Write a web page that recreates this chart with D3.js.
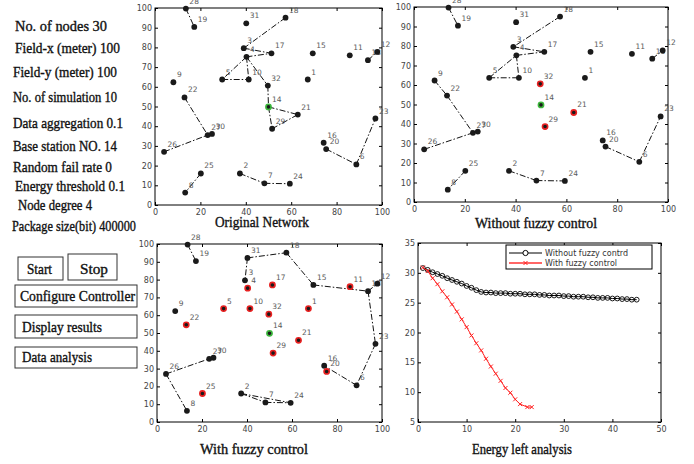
<!DOCTYPE html>
<html>
<head>
<meta charset="utf-8">
<script src="https://cdn.jsdelivr.net/npm/d3@7/dist/d3.min.js"></script>
<style>
body { margin: 0; background: #fff; }
.tick text { font-family: "DejaVu Sans", sans-serif; font-size: 8px; fill: #444; }
.tick line { stroke: #000; }
.serif { font-family: "Liberation Serif", serif; fill: #111; stroke: #111; stroke-width: 0.35px; }
.node-label { font-family: "DejaVu Sans", sans-serif; font-size: 7.5px; fill: #5a5a5a; }
.legend-text { font-family: "DejaVu Sans", sans-serif; font-size: 8px; fill: #333; }
</style>
</head>
<body>
<div id="chart-area"></div>
<script>
/*
*    wireless sensor network - fuzzy control demo panel
*/

// ---------- data ----------
let nodeIds = [1,2,3,4,5,6,7,8,9,10,11,12,13,14,15,16,17,18,19,20,21,22,23,24,25,26,27,28,29,30,31,32];
let nodeX = [67.3,37.4,39.1,40.3,29.6,88.7,48.2,13.3,8.1,41.3,85.8,97.9,93.8,50.0,69.5,74.3,
             51.3,57.5,17.3,75.4,62.9,13.0,97.1,59.4,20.2,4.0,23.2,13.6,51.6,25.1,40.2,49.7];
let nodeY = [63.7,16.0,79.6,75.2,63.7,20.6,11.0,6.3,62.3,63.7,76.0,77.7,73.5,49.8,77.0,31.6,
             77.0,95.1,90.4,28.4,45.9,54.6,43.9,10.8,16.0,27.0,35.5,99.7,38.7,36.1,92.2,60.6];
let baseStation = 14;

let edgesOriginal = [[28,19],[18,3],[3,17],[4,17],[4,5],[4,10],[4,32],[5,10],[32,14],[14,21],
                     [14,29],[29,21],[22,27],[26,27],[25,8],[2,7],[7,24],[20,6],[6,23],[13,12]];
let edgesWithout = [[28,19],[18,3],[3,17],[4,17],[4,10],[5,4],[5,10],[9,22],[22,27],[26,27],
                    [25,8],[2,7],[7,24],[20,6],[6,23],[13,12]];
let edgesWith = [[28,19],[31,3],[31,18],[18,15],[15,13],[13,12],[13,23],[23,6],[6,16],
                 [26,27],[26,8],[2,7],[2,24],[7,24]];

let redWithout = [32,21,29];
let redWith = [4,17,5,10,32,1,22,21,29,20,25,11];

let netXTicks = [0,20,40,60,80,100];
let netYTicks = [0,10,20,30,40,50,60,70,80,90,100];

// energy left
let roundsWithout = [1,2,3,4,5,6,7,8,9,10,11,12,13,14,15,16,17,18,19,20,21,22,23,24,25,26,27,28,29,30,
                     31,32,33,34,35,36,37,38,39,40,41,42,43,44,45];
let energyWithout = [30.8,30.5,30.1,29.8,29.5,29.1,28.8,28.5,28.2,27.8,27.5,27.1,26.8,26.7,26.7,26.6,
                     26.6,26.6,26.5,26.5,26.5,26.4,26.4,26.4,26.3,26.3,26.2,26.2,26.2,26.1,26.1,26.0,
                     26.0,26.0,25.9,25.9,25.8,25.8,25.8,25.7,25.7,25.6,25.6,25.5,25.5];
let roundsWith = [1,2,3,4,5,6,7,8,9,10,11,12,13,14,15,16,17,18,19,20,21,22.5,23.4];
let energyWith = [30.9,30.3,29.1,28.1,26.9,25.9,24.7,23.5,22.2,20.9,19.5,18.2,17.0,15.6,14.3,13.1,
                  11.9,10.7,9.9,8.8,8.0,7.5,7.5];
let energyXTicks = [0,10,20,30,40,50];
let energyYTicks = [5,10,15,20,25,30,35];
let legendNames = ["Without fuzzy contrd", "With fuzzy control"];

let paramText = ["No. of nodes  30", "Field-x (meter) 100", "Field-y (meter) 100", "No. of simulation 10",
                 "Data aggregation 0.1", "Base station NO. 14", "Random fail rate 0", "Energy threshold 0.1",
                 "Node degree 4", "Package size(bit) 400000"];
let buttonText = ["Start", "Stop", "Configure Controller", "Display results", "Data analysis"];

// ---------- layout ----------
// [x, baseline, width]
let paramLayout = [[15,31,92],[15,53,105],[13,77,104],[13,102,104],[13,128,110],[13,151,104],
                   [13,172,99],[15,191,110],[18,210,74],[12,231,124]];
// [x, y, w, h, textX, textW]
let buttonLayout = [[18,257,45,23,27,25],[68,254,49,26,80,28],[15,285,122,22,20,115],
                    [15,315,122,23,22,80],[15,347,122,21,22,70]];

let svg = d3.select("#chart-area")
    .append("svg")
    .attr("width", 694)
    .attr("height", 464);

// left parameter list
svg.selectAll(".param")
    .data(paramText)
    .enter()
    .append("text")
        .attr("class", "serif param")
        .attr("x", function(d, i){ return paramLayout[i][0]; })
        .attr("y", function(d, i){ return paramLayout[i][1]; })
        .attr("font-size", "14px")
        .attr("textLength", function(d, i){ return paramLayout[i][2]; })
        .attr("lengthAdjust", "spacingAndGlyphs")
        .text(function(d){ return d; });

// buttons
let btn = svg.selectAll(".btn")
    .data(buttonText)
    .enter()
    .append("g")
    .attr("class", "btn");

btn.append("rect")
    .attr("x", function(d, i){ return buttonLayout[i][0]; })
    .attr("y", function(d, i){ return buttonLayout[i][1]; })
    .attr("width", function(d, i){ return buttonLayout[i][2]; })
    .attr("height", function(d, i){ return buttonLayout[i][3]; })
    .attr("fill", "white")
    .attr("stroke", "#333")
    .attr("stroke-width", 1);

btn.append("text")
    .attr("class", "serif")
    .attr("font-size", "14px")
    .attr("x", function(d, i){ return buttonLayout[i][4]; })
    .attr("y", function(d, i){ return buttonLayout[i][1] + buttonLayout[i][3] - 6; })
    .attr("textLength", function(d, i){ return buttonLayout[i][5]; })
    .attr("lengthAdjust", "spacingAndGlyphs")
    .text(function(d){ return d; });

// ---------- helpers ----------
function drawFrame(x, y, xTicks, yTicks) {
    let x0 = x.range()[0], x1 = x.range()[1];
    let y0 = y.range()[0], y1 = y.range()[1];

    svg.append("g")
        .attr("transform", "translate(0," + y0 + ")")
        .call(d3.axisBottom(x).tickValues(xTicks).tickSizeInner(-3).tickSizeOuter(0).tickPadding(4))
        .call(function(g){ g.select(".domain").remove(); });
    svg.append("g")
        .attr("transform", "translate(" + x0 + ",0)")
        .call(d3.axisLeft(y).tickValues(yTicks).tickSizeInner(-3).tickSizeOuter(0).tickPadding(3))
        .call(function(g){ g.select(".domain").remove(); });
    svg.append("g")
        .attr("transform", "translate(0," + y1 + ")")
        .call(d3.axisTop(x).tickValues(xTicks).tickSizeInner(-3).tickSizeOuter(0).tickFormat(""))
        .call(function(g){ g.select(".domain").remove(); });
    svg.append("g")
        .attr("transform", "translate(" + x1 + ",0)")
        .call(d3.axisRight(y).tickValues(yTicks).tickSizeInner(-3).tickSizeOuter(0).tickFormat(""))
        .call(function(g){ g.select(".domain").remove(); });

    svg.append("rect")
        .attr("x", x0)
        .attr("y", y1)
        .attr("width", x1 - x0)
        .attr("height", y0 - y1)
        .attr("fill", "none")
        .attr("stroke", "#000")
        .attr("stroke-width", 1);
}

function nodeIndex(id) { return nodeIds.indexOf(id); }

function drawNetwork(xr, yr, edges, redNodes) {
    let x = d3.scaleLinear().domain([0, 100]).range(xr);
    let y = d3.scaleLinear().domain([0, 100]).range(yr);

    drawFrame(x, y, netXTicks, netYTicks);

    let g = svg.append("g");

    g.selectAll("line.edge")
        .data(edges)
        .enter()
        .append("line")
            .attr("class", "edge")
            .attr("x1", function(d){ return x(nodeX[nodeIndex(d[0])]); })
            .attr("y1", function(d){ return y(nodeY[nodeIndex(d[0])]); })
            .attr("x2", function(d){ return x(nodeX[nodeIndex(d[1])]); })
            .attr("y2", function(d){ return y(nodeY[nodeIndex(d[1])]); })
            .attr("stroke", "#111")
            .attr("stroke-width", 1)
            .attr("stroke-dasharray", "6,2,1.5,2");

    g.selectAll("text.node-label")
        .data(nodeIds)
        .enter()
        .append("text")
            .attr("class", "node-label")
            .attr("x", function(d, i){ return x(nodeX[i]) + 3.5; })
            .attr("y", function(d, i){ return y(nodeY[i]) - 5; })
            .text(function(d){ return d; });

    g.selectAll("circle.node")
        .data(nodeIds)
        .enter()
        .append("circle")
            .attr("class", "node")
            .attr("cx", function(d, i){ return x(nodeX[i]); })
            .attr("cy", function(d, i){ return y(nodeY[i]); })
            .attr("r", function(d){ return (d === baseStation || redNodes.indexOf(d) >= 0) ? 2.6 : 2.9; })
            .attr("fill", "#1a1a1a")
            .attr("stroke", function(d){
                if (d === baseStation) return "#3cb83c";
                if (redNodes.indexOf(d) >= 0) return "#e82020";
                return "none";
            })
            .attr("stroke-width", 1.6);
}

function addTitle(txt, cx, base, w) {
    svg.append("text")
        .attr("class", "serif")
        .attr("font-size", "14px")
        .attr("x", cx - w / 2)
        .attr("y", base)
        .attr("textLength", w)
        .attr("lengthAdjust", "spacingAndGlyphs")
        .text(txt);
}

// ---------- network panels ----------
drawNetwork([155, 382], [205, 8], edgesOriginal, []);
drawNetwork([414, 668], [202, 7], edgesWithout, redWithout);
drawNetwork([157, 382], [422, 244], edgesWith, redWith);

addTitle("Original Network", 262, 227, 94);
addTitle("Without fuzzy control", 536, 228, 122);
addTitle("With  fuzzy control", 254, 454, 108);
addTitle("Energy left analysis", 522, 454, 100);

// ---------- energy panel ----------
let ex = d3.scaleLinear().domain([0, 50]).range([418, 661]);
let ey = d3.scaleLinear().domain([5, 35]).range([422, 243]);

drawFrame(ex, ey, energyXTicks, energyYTicks);

let withoutPts = roundsWithout.map(function(r, i){ return [r, energyWithout[i]]; });
let withPts = roundsWith.map(function(r, i){ return [r, energyWith[i]]; });

let line = d3.line()
    .x(function(d){ return ex(d[0]); })
    .y(function(d){ return ey(d[1]); });

svg.append("path")
    .datum(withoutPts)
    .attr("fill", "none")
    .attr("stroke", "#000")
    .attr("stroke-width", 1)
    .attr("d", line);

svg.selectAll("circle.e-without")
    .data(withoutPts)
    .enter()
    .append("circle")
        .attr("class", "e-without")
        .attr("cx", function(d){ return ex(d[0]); })
        .attr("cy", function(d){ return ey(d[1]); })
        .attr("r", 2.4)
        .attr("fill", "none")
        .attr("stroke", "#000")
        .attr("stroke-width", 0.9);

svg.append("path")
    .datum(withPts)
    .attr("fill", "none")
    .attr("stroke", "#f22")
    .attr("stroke-width", 1)
    .attr("d", line);

let cross = "M-2,-2L2,2M-2,2L2,-2";
svg.selectAll("path.e-with")
    .data(withPts)
    .enter()
    .append("path")
        .attr("class", "e-with")
        .attr("transform", function(d){ return "translate(" + ex(d[0]) + "," + ey(d[1]) + ")"; })
        .attr("d", cross)
        .attr("stroke", "#f22")
        .attr("stroke-width", 1);

// legend
let legend = svg.append("g")
    .attr("transform", "translate(506,245)");

legend.append("rect")
    .attr("width", 146)
    .attr("height", 24)
    .attr("fill", "white")
    .attr("stroke", "#000")
    .attr("stroke-width", 1);

legend.append("line")
    .attr("x1", 3).attr("x2", 36).attr("y1", 8).attr("y2", 8)
    .attr("stroke", "#000");
legend.append("circle")
    .attr("cx", 19.5).attr("cy", 8).attr("r", 2.6)
    .attr("fill", "white").attr("stroke", "#000");
legend.append("line")
    .attr("x1", 3).attr("x2", 36).attr("y1", 18).attr("y2", 18)
    .attr("stroke", "#f66").attr("stroke-width", 2);
legend.append("path")
    .attr("transform", "translate(19.5,18)")
    .attr("d", cross)
    .attr("stroke", "#f22");

legend.selectAll("text")
    .data(legendNames)
    .enter()
    .append("text")
        .attr("class", "legend-text")
        .attr("x", 39)
        .attr("y", function(d, i){ return 11 + i * 10; })
        .text(function(d){ return d; });
</script>
</body>
</html>
